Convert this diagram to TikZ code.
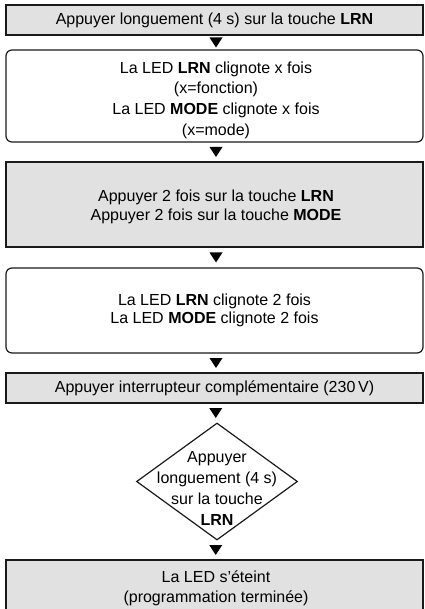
\documentclass[tikz,border=0pt]{standalone}
\usepackage{fontspec}
\setmainfont{Liberation Sans}
\usetikzlibrary{shapes.geometric,calc}
\definecolor{boxgray}{HTML}{E1E1E1}
\definecolor{edge}{HTML}{1A1A1A}
\tikzset{
  base/.style={draw=edge, line width=0.9pt, minimum width=312.75pt, inner sep=0pt,
    align=center, font=\fontsize{12}{14}\selectfont},
  greybox/.style={base, fill=boxgray},
  roundbox/.style={base, fill=white, rounded corners=4.5pt},
  diabox/.style={draw=edge, line width=0.9pt, fill=white, diamond, inner sep=0pt,
    minimum width=120.75pt, minimum height=87.75pt},
  txt/.style={align=center, inner sep=0pt, font=\fontsize{12}{15.7}\selectfont},
}
\newcommand\downtri[3]{\fill[black] ($(#1.south)!0.5!(#2.north)+(#3,0)$) ++(-6.5,-5) -- ++(13,0) -- ++(-6.5,10) -- cycle;}
\begin{document}
\begin{tikzpicture}[x=0.75pt,y=-0.75pt]
\useasboundingbox (0,0) rectangle (424,609);
\clip (0,0) rectangle (424,609);
\node[greybox, minimum height=22.5pt] (b1) at (214.5,20) {Appuyer longuement (4 s) sur la touche \textbf{LRN}};
\node[roundbox, minimum height=69pt] (b2) at (214.5,96) {};
\node[txt, font=\fontsize{12}{15.5}\selectfont] (b2t) at (216,100) {La LED \textbf{LRN} clignote x fois\\(x=fonction)\\La LED \textbf{MODE} clignote x fois\\(x=mode)};
\node[greybox, minimum height=63.75pt] (b3) at (214.5,204.5) {};
\node[txt, font=\fontsize{12}{14}\selectfont] (b3t) at (216,207) {Appuyer 2 fois sur la touche \textbf{LRN}\\Appuyer 2 fois sur la touche \textbf{MODE}};
\node[roundbox, minimum height=63.75pt] (b4) at (214.5,310.5) {La LED \textbf{LRN} clignote 2 fois\\La LED \textbf{MODE} clignote 2 fois};
\node[greybox, minimum height=22.5pt] (b5) at (214.5,388) {Appuyer interrupteur complémentaire (230\,V)};
\node[diabox] (d) at (217,481.5) {};
\node[txt] (dt) at (217,488.5) {Appuyer\\longuement (4 s)\\sur la touche\\\textbf{LRN}};
\node[greybox, minimum height=42pt] (b6) at (214.5,588) {};
\node[txt, font=\fontsize{12}{15}\selectfont] (b6t) at (216,588) {La LED s’éteint\\(programmation terminée)};
\downtri{b1}{b2}{1.5}
\downtri{b2}{b3}{1.5}
\downtri{b3}{b4}{1.5}
\downtri{b4}{b5}{1.5}
\downtri{b5}{d}{0}
\downtri{d}{b6}{0}
\end{tikzpicture}
\end{document}
